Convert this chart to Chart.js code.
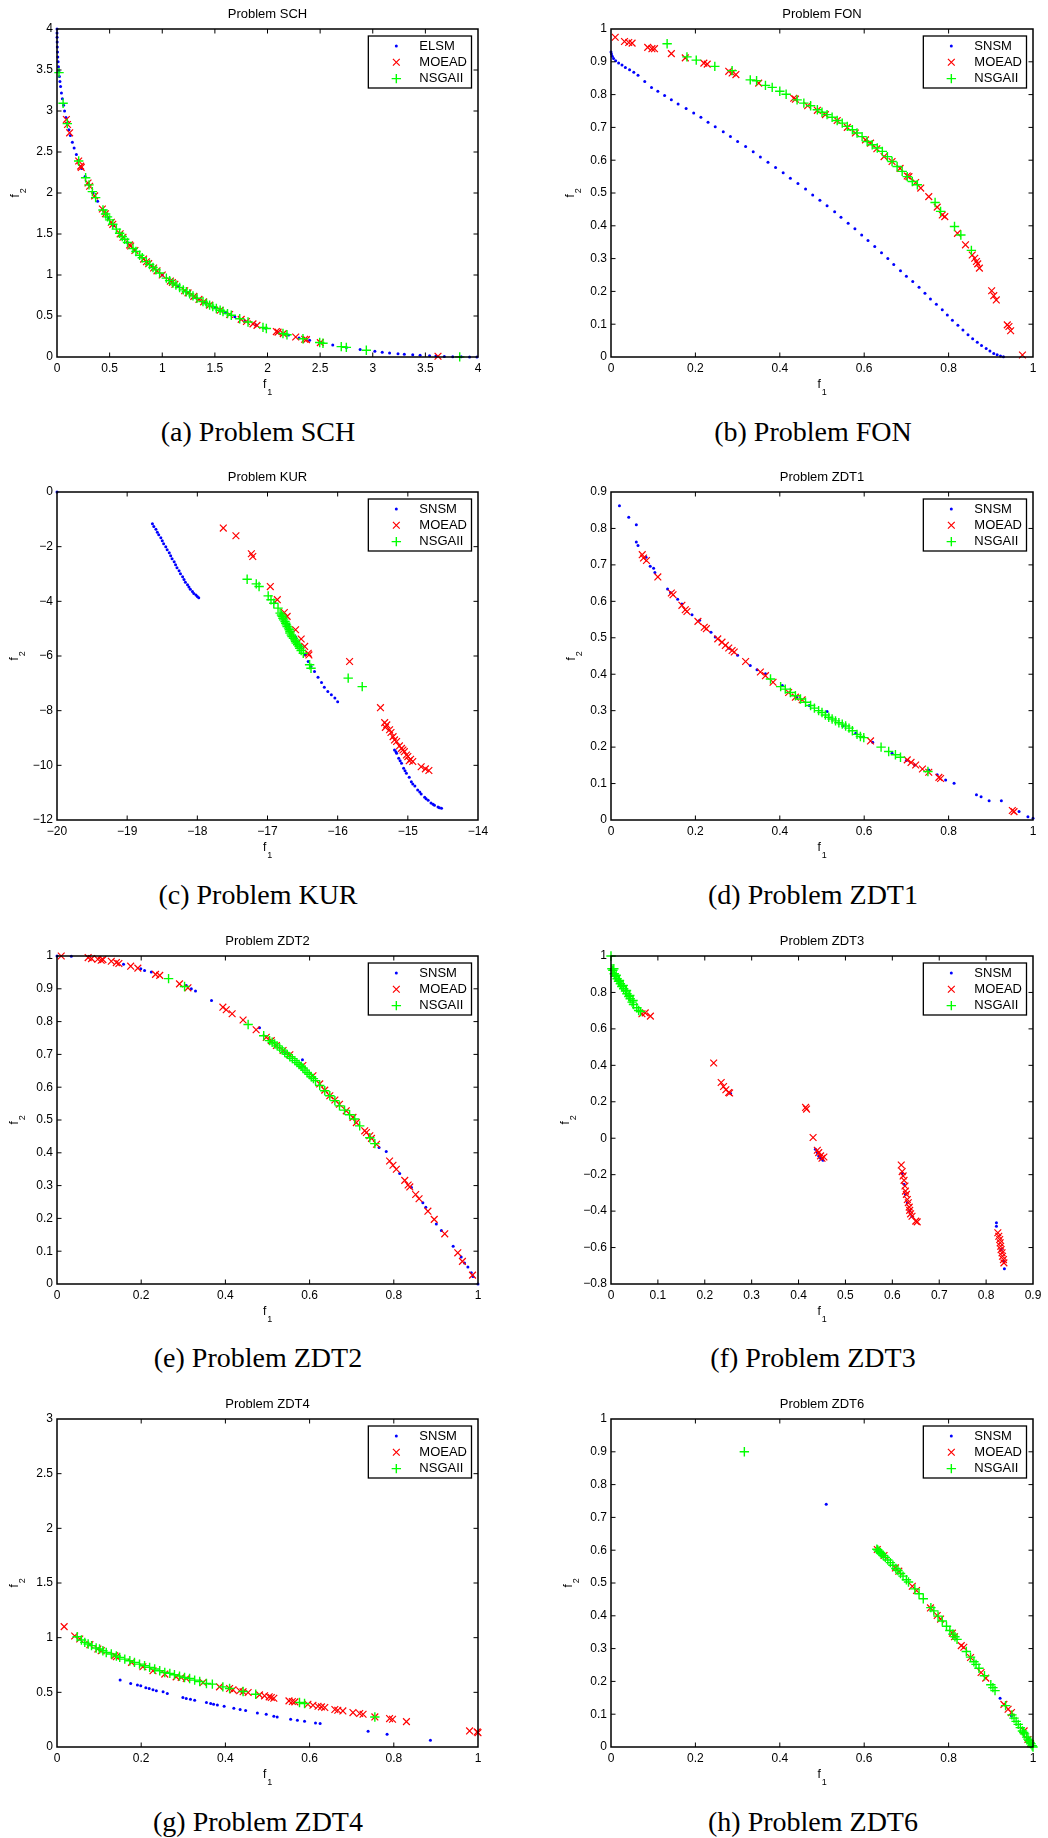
<!DOCTYPE html>
<html>
<head>
<meta charset="utf-8">
<title>Pareto fronts — SNSM / MOEAD / NSGAII</title>
<script src="https://cdn.jsdelivr.net/npm/chart.js@4.4.1/dist/chart.umd.min.js"></script>
<style>
  html, body { margin: 0; padding: 0; background: #fff; }
  body { width: 1048px; height: 1838px; position: relative; overflow: hidden; }
  .pf-cell { position: absolute; width: 524px; height: 400px; }
  .pf-cap  { position: absolute; width: 440px; text-align: center; color: #000;
             font: 28px "Liberation Serif", "Times New Roman", serif; line-height: 34px; white-space: nowrap; }
</style>
</head>
<body>
<script>
// ─── DATA ────────────────────────────────────────────────────────────────────
// every series is a list of [f1, f2] pairs

// (a) SCH
const schElsm = [[0,4.0],[0.0002,3.95],[0.0006,3.9],[0.0016,3.84],[0.003,3.78],[0.005,3.72],[0.0075,3.66],[0.0105,3.6],[0.014,3.54],[0.018,3.48],[0.023,3.42],[0.028,3.36],[0.034,3.3],[0.042,3.22],[0.051,3.15],[0.062,3.07],[0.072,3.0],[0.085,2.92],[0.097,2.85],[0.113,2.77],[0.127,2.7],[0.146,2.62],[0.163,2.55],[0.184,2.47],[0.203,2.4],[0.234,2.3],[0.267,2.2],[0.304,2.1],[0.343,2.0],[0.386,1.9],[0.434,1.8],[0.485,1.7],[0.54,1.6],[0.601,1.5],[0.667,1.4],[0.739,1.3],[0.818,1.2],[0.905,1.1],[1.0,1.0],[1.073,0.93],[1.151,0.86],[1.235,0.79],[1.326,0.72],[1.41,0.66],[1.502,0.6],[1.601,0.54],[1.69,0.49],[1.787,0.44],[1.892,0.39],[1.984,0.35],[2.1,0.303],[2.2,0.267],[2.3,0.233],[2.4,0.203],[2.5,0.175],[2.62,0.145],[2.75,0.117],[2.88,0.092],[3.02,0.069],[3.09,0.059],[3.16,0.049],[3.24,0.04],[3.3,0.034],[3.38,0.026],[3.45,0.02],[3.54,0.014],[3.6,0.011],[3.68,0.007],[3.76,0.004],[3.84,0.0016],[3.92,0.0004],[3.99,0]];
const schMoead = [[0.089,2.896],[0.1,2.835],[0.12,2.734],[0.206,2.39],[0.225,2.328],[0.23,2.312],[0.295,2.122],[0.31,2.083],[0.358,1.965],[0.431,1.805],[0.46,1.747],[0.516,1.643],[0.53,1.618],[0.6,1.502],[0.627,1.46],[0.69,1.367],[0.7,1.353],[0.74,1.299],[0.823,1.194],[0.85,1.162],[0.871,1.138],[0.918,1.085],[0.95,1.051],[1.0,1.0],[1.077,0.926],[1.096,0.908],[1.12,0.887],[1.213,0.808],[1.245,0.782],[1.3,0.739],[1.349,0.703],[1.393,0.672],[1.45,0.633],[1.55,0.57],[1.64,0.518],[1.75,0.459],[1.8,0.433],[1.862,0.404],[1.9,0.386],[2.084,0.31],[2.1,0.303],[2.15,0.285],[2.268,0.244],[2.353,0.217],[2.37,0.212],[2.502,0.175],[3.62,0.009]];
const schNsga  = [[0.019,3.468],[0.058,3.095],[0.098,2.846],[0.206,2.39],[0.272,2.186],[0.304,2.099],[0.336,2.017],[0.367,1.944],[0.437,1.793],[0.462,1.743],[0.48,1.709],[0.5,1.672],[0.53,1.618],[0.564,1.56],[0.595,1.51],[0.62,1.47],[0.643,1.436],[0.67,1.396],[0.722,1.323],[0.75,1.286],[0.785,1.241],[0.81,1.21],[0.849,1.163],[0.88,1.128],[0.912,1.092],[0.94,1.062],[0.975,1.025],[1.039,0.962],[1.07,0.932],[1.102,0.903],[1.13,0.878],[1.165,0.848],[1.2,0.818],[1.229,0.795],[1.26,0.77],[1.292,0.745],[1.33,0.717],[1.387,0.676],[1.42,0.653],[1.45,0.633],[1.48,0.614],[1.514,0.592],[1.55,0.57],[1.577,0.554],[1.62,0.529],[1.656,0.509],[1.736,0.466],[1.815,0.426],[1.957,0.361],[1.989,0.348],[2.147,0.286],[2.185,0.272],[2.337,0.222],[2.496,0.176],[2.527,0.168],[2.701,0.127],[2.749,0.117],[2.939,0.082],[3.826,0.002]];

// (b) FON
const fonSnsm  = [[0,0.93],[0.001,0.924],[0.003,0.917],[0.006,0.91],[0.011,0.903],[0.018,0.896],[0.026,0.89],[0.034,0.883],[0.044,0.876],[0.054,0.868],[0.064,0.859],[0.08,0.84],[0.096,0.822],[0.111,0.81],[0.127,0.797],[0.143,0.784],[0.159,0.771],[0.178,0.758],[0.196,0.744],[0.213,0.731],[0.23,0.716],[0.247,0.702],[0.266,0.687],[0.283,0.672],[0.3,0.657],[0.319,0.642],[0.337,0.626],[0.354,0.61],[0.372,0.594],[0.39,0.578],[0.408,0.562],[0.425,0.545],[0.443,0.529],[0.461,0.512],[0.478,0.494],[0.495,0.478],[0.512,0.461],[0.53,0.443],[0.545,0.426],[0.562,0.408],[0.578,0.391],[0.594,0.372],[0.609,0.355],[0.625,0.337],[0.641,0.318],[0.656,0.3],[0.67,0.282],[0.686,0.263],[0.7,0.246],[0.715,0.23],[0.73,0.213],[0.744,0.194],[0.757,0.177],[0.771,0.161],[0.785,0.144],[0.797,0.128],[0.809,0.112],[0.822,0.097],[0.834,0.082],[0.846,0.068],[0.857,0.056],[0.868,0.045],[0.878,0.035],[0.889,0.026],[0.898,0.018],[0.907,0.011],[0.915,0.007],[0.923,0.003],[0.93,0.001]];
const fonMoead = [[0.01,0.975],[0.032,0.962],[0.042,0.959],[0.05,0.957],[0.087,0.944],[0.097,0.94],[0.103,0.94],[0.143,0.925],[0.176,0.912],[0.22,0.896],[0.228,0.893],[0.279,0.871],[0.287,0.866],[0.296,0.861],[0.35,0.835],[0.433,0.789],[0.437,0.786],[0.466,0.766],[0.489,0.752],[0.508,0.739],[0.536,0.721],[0.56,0.7],[0.579,0.683],[0.603,0.662],[0.615,0.652],[0.63,0.635],[0.647,0.611],[0.666,0.596],[0.685,0.575],[0.702,0.552],[0.706,0.55],[0.722,0.532],[0.734,0.515],[0.753,0.489],[0.773,0.457],[0.785,0.433],[0.791,0.428],[0.821,0.377],[0.84,0.342],[0.856,0.311],[0.862,0.301],[0.866,0.291],[0.869,0.284],[0.873,0.271],[0.902,0.202],[0.907,0.187],[0.913,0.174],[0.939,0.098],[0.943,0.093],[0.947,0.08],[0.975,0.006]];
const fonNsga  = [[0.133,0.955],[0.18,0.915],[0.202,0.905],[0.246,0.886],[0.287,0.873],[0.33,0.845],[0.345,0.842],[0.366,0.828],[0.382,0.822],[0.4,0.81],[0.415,0.801],[0.441,0.784],[0.457,0.774],[0.473,0.766],[0.489,0.754],[0.5,0.746],[0.512,0.739],[0.524,0.731],[0.536,0.721],[0.548,0.713],[0.56,0.703],[0.572,0.693],[0.583,0.683],[0.595,0.672],[0.607,0.657],[0.619,0.647],[0.631,0.637],[0.643,0.627],[0.655,0.611],[0.666,0.596],[0.678,0.581],[0.69,0.566],[0.702,0.55],[0.714,0.535],[0.726,0.525],[0.768,0.471],[0.781,0.444],[0.814,0.398],[0.829,0.372],[0.854,0.325]];

// (c) KUR
const kurSnsm  = [[-20,0],[-18.64,-1.16],[-18.62,-1.26],[-18.59,-1.36],[-18.57,-1.47],[-18.55,-1.56],[-18.52,-1.67],[-18.5,-1.78],[-18.48,-1.89],[-18.45,-2.0],[-18.43,-2.11],[-18.4,-2.22],[-18.38,-2.33],[-18.36,-2.44],[-18.33,-2.55],[-18.31,-2.66],[-18.29,-2.77],[-18.26,-2.88],[-18.24,-2.99],[-18.21,-3.1],[-18.19,-3.2],[-18.17,-3.3],[-18.14,-3.39],[-18.12,-3.48],[-18.1,-3.56],[-18.07,-3.64],[-18.05,-3.71],[-18.02,-3.77],[-18.0,-3.82],[-17.98,-3.87],[-16.9,-4.05],[-16.8,-4.45],[-16.7,-4.85],[-16.6,-5.3],[-16.52,-5.65],[-16.46,-5.95],[-16.42,-6.2],[-16.38,-6.38],[-16.33,-6.57],[-16.28,-6.78],[-16.23,-6.97],[-16.19,-7.14],[-16.14,-7.3],[-16.09,-7.42],[-16.04,-7.54],[-16.0,-7.67],[-15.19,-9.44],[-15.17,-9.5],[-15.16,-9.56],[-15.13,-9.74],[-15.11,-9.83],[-15.09,-9.92],[-15.06,-10.11],[-15.04,-10.2],[-15.02,-10.29],[-14.98,-10.44],[-14.95,-10.6],[-14.93,-10.68],[-14.9,-10.76],[-14.86,-10.9],[-14.83,-10.98],[-14.81,-11.05],[-14.76,-11.17],[-14.74,-11.22],[-14.71,-11.28],[-14.67,-11.38],[-14.64,-11.42],[-14.62,-11.46],[-14.57,-11.52],[-14.55,-11.55],[-14.52,-11.57]];
const kurMoead = [[-17.63,-1.32],[-17.45,-1.6],[-17.23,-2.26],[-17.21,-2.36],[-16.96,-3.46],[-16.86,-3.94],[-16.76,-4.41],[-16.72,-4.55],[-16.6,-5.04],[-16.52,-5.38],[-16.47,-5.65],[-16.42,-5.9],[-16.41,-5.96],[-15.83,-6.2],[-15.39,-7.89],[-15.33,-8.44],[-15.32,-8.61],[-15.3,-8.52],[-15.26,-8.7],[-15.24,-8.8],[-15.21,-8.95],[-15.19,-9.07],[-15.16,-9.13],[-15.12,-9.29],[-15.09,-9.38],[-15.07,-9.44],[-15.05,-9.5],[-15.02,-9.62],[-15.0,-9.68],[-14.98,-9.83],[-14.96,-9.78],[-14.93,-9.86],[-14.81,-10.05],[-14.75,-10.13],[-14.7,-10.19]];
const kurNsga  = [[-17.29,-3.19],[-17.16,-3.36],[-17.12,-3.46],[-16.99,-3.8],[-16.95,-3.94],[-16.91,-4.07],[-16.85,-4.25],[-16.82,-4.43],[-16.8,-4.5],[-16.79,-4.55],[-16.78,-4.62],[-16.77,-4.68],[-16.75,-4.74],[-16.74,-4.8],[-16.73,-4.86],[-16.72,-4.92],[-16.7,-4.98],[-16.69,-5.04],[-16.68,-5.1],[-16.68,-5.16],[-16.66,-5.23],[-16.65,-5.29],[-16.63,-5.35],[-16.61,-5.41],[-16.6,-5.47],[-16.59,-5.53],[-16.57,-5.59],[-16.55,-5.65],[-16.54,-5.72],[-16.52,-5.8],[-16.49,-5.9],[-16.4,-6.32],[-16.38,-6.45],[-15.85,-6.81],[-15.65,-7.12]];

// (d) ZDT1
const zdt1Snsm  = [[0.02,0.862],[0.042,0.831],[0.06,0.81],[0.06,0.763],[0.064,0.753],[0.083,0.721],[0.093,0.696],[0.101,0.691],[0.104,0.679],[0.134,0.634],[0.141,0.624],[0.158,0.606],[0.168,0.593],[0.192,0.563],[0.21,0.548],[0.237,0.515],[0.247,0.502],[0.28,0.471],[0.3,0.452],[0.33,0.424],[0.346,0.412],[0.366,0.401],[0.406,0.369],[0.44,0.337],[0.47,0.314],[0.512,0.298],[0.55,0.258],[0.58,0.238],[0.62,0.213],[0.666,0.183],[0.7,0.163],[0.72,0.151],[0.753,0.137],[0.773,0.124],[0.793,0.11],[0.813,0.101],[0.866,0.069],[0.877,0.064],[0.896,0.053],[0.925,0.053],[0.967,0.023],[0.988,0.009],[1.0,0.005]];
const zdt1Moead = [[0.074,0.728],[0.077,0.719],[0.084,0.712],[0.111,0.667],[0.143,0.623],[0.147,0.618],[0.168,0.589],[0.176,0.577],[0.18,0.572],[0.206,0.545],[0.221,0.529],[0.226,0.525],[0.253,0.497],[0.263,0.488],[0.271,0.479],[0.279,0.472],[0.287,0.465],[0.292,0.461],[0.319,0.435],[0.354,0.406],[0.366,0.396],[0.384,0.378],[0.421,0.35],[0.437,0.337],[0.453,0.33],[0.615,0.217],[0.702,0.165],[0.711,0.158],[0.722,0.151],[0.738,0.14],[0.753,0.131],[0.777,0.117],[0.781,0.114],[0.951,0.026],[0.955,0.023]];
const zdt1Nsga  = [[0.378,0.387],[0.402,0.366],[0.413,0.359],[0.425,0.35],[0.437,0.341],[0.449,0.332],[0.461,0.323],[0.473,0.314],[0.482,0.307],[0.492,0.3],[0.5,0.295],[0.508,0.288],[0.516,0.282],[0.524,0.277],[0.532,0.272],[0.54,0.267],[0.548,0.263],[0.556,0.258],[0.564,0.252],[0.572,0.245],[0.583,0.235],[0.591,0.229],[0.599,0.226],[0.64,0.2],[0.658,0.188],[0.674,0.179],[0.686,0.172],[0.751,0.133]];

// (e) ZDT2
const zdt2Snsm  = [[0,1],[0.034,0.999],[0.158,0.975],[0.199,0.961],[0.208,0.956],[0.224,0.951],[0.307,0.91],[0.319,0.9],[0.329,0.893],[0.367,0.864],[0.481,0.781],[0.541,0.706],[0.583,0.684],[0.765,0.416],[0.782,0.404],[0.814,0.337],[0.842,0.294],[0.869,0.248],[0.876,0.234],[0.901,0.183],[0.913,0.163],[0.941,0.115],[0.96,0.082],[0.968,0.064],[0.976,0.052],[0.984,0.034],[0.988,0.023],[1.0,0]];
const zdt2Moead = [[0.01,1.0],[0.074,0.995],[0.082,0.992],[0.097,0.99],[0.105,0.987],[0.109,0.989],[0.129,0.984],[0.141,0.98],[0.147,0.977],[0.175,0.969],[0.192,0.963],[0.234,0.944],[0.244,0.941],[0.291,0.915],[0.311,0.903],[0.394,0.844],[0.402,0.836],[0.416,0.824],[0.442,0.805],[0.473,0.775],[0.497,0.752],[0.509,0.742],[0.521,0.727],[0.537,0.712],[0.553,0.699],[0.584,0.666],[0.608,0.635],[0.624,0.61],[0.636,0.591],[0.648,0.574],[0.66,0.561],[0.671,0.548],[0.687,0.528],[0.703,0.508],[0.711,0.492],[0.731,0.467],[0.735,0.462],[0.743,0.452],[0.747,0.444],[0.759,0.426],[0.79,0.375],[0.798,0.362],[0.806,0.35],[0.826,0.316],[0.834,0.302],[0.838,0.296],[0.852,0.273],[0.86,0.26],[0.881,0.222],[0.896,0.197],[0.921,0.153],[0.952,0.095],[0.963,0.069],[0.987,0.027]];
const zdt2Nsga  = [[0.265,0.931],[0.303,0.907],[0.454,0.791],[0.491,0.757],[0.505,0.742],[0.511,0.737],[0.517,0.732],[0.523,0.726],[0.529,0.72],[0.535,0.713],[0.541,0.706],[0.547,0.7],[0.553,0.693],[0.559,0.687],[0.565,0.681],[0.57,0.675],[0.575,0.669],[0.58,0.664],[0.584,0.659],[0.589,0.652],[0.594,0.645],[0.599,0.639],[0.604,0.632],[0.609,0.626],[0.614,0.62],[0.624,0.605],[0.636,0.589],[0.648,0.574],[0.66,0.559],[0.671,0.543],[0.683,0.53],[0.695,0.516],[0.707,0.503],[0.719,0.482],[0.743,0.446],[0.755,0.428]];

// (f) ZDT3
const zdt3Snsm  = [[0.255,0.246],[0.436,-0.061],[0.44,-0.079],[0.443,-0.097],[0.447,-0.11],[0.452,-0.121],[0.621,-0.194],[0.625,-0.253],[0.628,-0.308],[0.632,-0.354],[0.637,-0.4],[0.642,-0.428],[0.822,-0.464],[0.822,-0.483],[0.832,-0.611],[0.838,-0.675],[0.839,-0.716]];
const zdt3Moead = [[0.066,0.683],[0.073,0.688],[0.084,0.67],[0.219,0.413],[0.235,0.306],[0.24,0.284],[0.245,0.266],[0.251,0.251],[0.253,0.248],[0.415,0.169],[0.417,0.16],[0.431,0.004],[0.44,-0.066],[0.443,-0.079],[0.447,-0.097],[0.45,-0.11],[0.454,-0.103],[0.619,-0.147],[0.621,-0.183],[0.623,-0.207],[0.625,-0.231],[0.627,-0.262],[0.628,-0.29],[0.63,-0.308],[0.632,-0.336],[0.634,-0.354],[0.636,-0.378],[0.637,-0.396],[0.639,-0.415],[0.642,-0.428],[0.65,-0.455],[0.653,-0.459],[0.825,-0.519],[0.827,-0.538],[0.829,-0.556],[0.83,-0.574],[0.831,-0.593],[0.832,-0.611],[0.834,-0.629],[0.835,-0.648],[0.837,-0.666],[0.838,-0.684]];
const zdt3Nsga  = [[0,1],[0.002,0.93],[0.004,0.921],[0.006,0.93],[0.007,0.903],[0.009,0.888],[0.011,0.894],[0.013,0.875],[0.016,0.861],[0.018,0.866],[0.02,0.848],[0.023,0.833],[0.026,0.839],[0.027,0.82],[0.031,0.807],[0.033,0.811],[0.034,0.793],[0.038,0.778],[0.04,0.783],[0.041,0.765],[0.045,0.747],[0.047,0.756],[0.048,0.734],[0.055,0.716],[0.059,0.701],[0.063,0.695]];

// (g) ZDT4
const zdt4Snsm  = [[0.15,0.612],[0.175,0.581],[0.191,0.566],[0.199,0.56],[0.211,0.541],[0.219,0.535],[0.228,0.523],[0.236,0.514],[0.252,0.505],[0.262,0.489],[0.299,0.453],[0.307,0.443],[0.317,0.437],[0.327,0.428],[0.355,0.407],[0.365,0.398],[0.372,0.391],[0.381,0.385],[0.397,0.373],[0.42,0.355],[0.435,0.343],[0.448,0.333],[0.476,0.312],[0.497,0.3],[0.515,0.281],[0.523,0.275],[0.555,0.254],[0.571,0.245],[0.588,0.235],[0.614,0.22],[0.625,0.214],[0.739,0.144],[0.784,0.116],[0.887,0.061]];
const zdt4Moead = [[0.017,1.101],[0.042,1.015],[0.054,0.988],[0.078,0.936],[0.097,0.896],[0.105,0.881],[0.137,0.835],[0.141,0.826],[0.177,0.774],[0.204,0.734],[0.228,0.697],[0.256,0.667],[0.283,0.642],[0.295,0.636],[0.307,0.627],[0.347,0.59],[0.386,0.55],[0.41,0.535],[0.418,0.523],[0.434,0.514],[0.442,0.505],[0.454,0.498],[0.481,0.477],[0.493,0.468],[0.504,0.459],[0.509,0.453],[0.515,0.446],[0.551,0.422],[0.559,0.416],[0.565,0.413],[0.596,0.391],[0.608,0.382],[0.62,0.373],[0.628,0.367],[0.636,0.361],[0.66,0.343],[0.667,0.336],[0.679,0.33],[0.703,0.315],[0.719,0.306],[0.727,0.3],[0.755,0.275],[0.79,0.26],[0.797,0.254],[0.83,0.232],[0.98,0.147],[0.998,0.138],[1.0,0.131]];
const zdt4Nsga  = [[0.048,1.009],[0.058,0.979],[0.066,0.957],[0.074,0.942],[0.082,0.927],[0.093,0.905],[0.101,0.896],[0.109,0.881],[0.117,0.865],[0.129,0.85],[0.141,0.832],[0.149,0.82],[0.161,0.804],[0.173,0.789],[0.184,0.774],[0.196,0.758],[0.208,0.743],[0.22,0.728],[0.232,0.713],[0.244,0.697],[0.256,0.682],[0.268,0.673],[0.279,0.661],[0.291,0.648],[0.303,0.636],[0.315,0.627],[0.327,0.612],[0.339,0.599],[0.355,0.581],[0.369,0.575],[0.394,0.55],[0.41,0.535],[0.442,0.508],[0.472,0.483],[0.576,0.407],[0.588,0.398],[0.755,0.275]];

// (h) ZDT6
const zdt6Snsm  = [[0.51,0.74],[0.922,0.149],[0.949,0.095]];
const zdt6Moead = [[0.631,0.602],[0.647,0.584],[0.674,0.546],[0.682,0.536],[0.714,0.49],[0.724,0.477],[0.757,0.424],[0.773,0.401],[0.781,0.39],[0.809,0.347],[0.814,0.336],[0.83,0.309],[0.836,0.304],[0.852,0.273],[0.877,0.227],[0.888,0.21],[0.931,0.13],[0.941,0.115],[0.949,0.105],[0.979,0.049],[0.988,0.023],[0.994,0.01]];
const zdt6Nsga  = [[0.316,0.9],[0.63,0.603],[0.632,0.601],[0.635,0.597],[0.638,0.593],[0.641,0.589],[0.645,0.584],[0.65,0.578],[0.656,0.57],[0.662,0.562],[0.668,0.554],[0.675,0.544],[0.68,0.538],[0.686,0.529],[0.692,0.521],[0.7,0.51],[0.705,0.503],[0.72,0.482],[0.73,0.467],[0.74,0.452],[0.758,0.425],[0.765,0.415],[0.775,0.399],[0.785,0.384],[0.795,0.368],[0.803,0.355],[0.81,0.344],[0.815,0.336],[0.82,0.328],[0.842,0.291],[0.852,0.274],[0.86,0.26],[0.865,0.252],[0.872,0.24],[0.885,0.217],[0.9,0.19],[0.905,0.181],[0.91,0.172],[0.935,0.126],[0.95,0.098],[0.955,0.088],[0.96,0.078],[0.965,0.069],[0.97,0.059],[0.975,0.049],[0.978,0.044],[0.98,0.04],[0.985,0.03],[0.988,0.024],[0.99,0.02],[0.993,0.014],[0.995,0.01],[0.998,0.004],[1.0,0]];

// tick values
const ticks0to4   = [0, 0.5, 1, 1.5, 2, 2.5, 3, 3.5, 4];
const ticksUnit5  = [0, 0.2, 0.4, 0.6, 0.8, 1];
const ticksUnit10 = [0, 0.1, 0.2, 0.3, 0.4, 0.5, 0.6, 0.7, 0.8, 0.9, 1];
const kurXTicks   = [-20, -19, -18, -17, -16, -15, -14];
const kurYTicks   = [-12, -10, -8, -6, -4, -2, 0];
const zdt1YTicks  = [0, 0.1, 0.2, 0.3, 0.4, 0.5, 0.6, 0.7, 0.8, 0.9];
const zdt3XTicks  = [0, 0.1, 0.2, 0.3, 0.4, 0.5, 0.6, 0.7, 0.8, 0.9];
const zdt3YTicks  = [-0.8, -0.6, -0.4, -0.2, 0, 0.2, 0.4, 0.6, 0.8, 1];
const zdt4YTicks  = [0, 0.5, 1, 1.5, 2, 2.5, 3];

// ─── LAYOUT ──────────────────────────────────────────────────────────────────
const PF_FONT   = '"Liberation Sans", Arial, Helvetica, sans-serif';
const CELL_X    = [0, 524];                 // canvas left per column
const CELL_Y    = [0, 463, 927, 1390];      // canvas top per row
const CELL_W    = 524, CELL_H = 400;
const PLOT_L    = [57, 87];                 // chart-area left inside canvas, per column
const PLOT_R    = [478, 509];               // chart-area right inside canvas
const TITLE_H   = 29;                       // title band above the plot
const XAXIS_H   = 43;                       // below the plot
const CAP_X     = [258, 813];               // caption centre per column
const CAP_Y     = [432, 895, 1358, 1822];   // caption centre per row
const TICK_LEN  = 4.5;

// yLab: distance from the plot's left edge to the centre of the rotated "f2"
const PANELS = [
  { cap: '(a) Problem SCH',  title: 'Problem SCH',  col: 0, row: 0, first: 'ELSM', x: [0, 4],     y: [0, 4],     xt: ticks0to4,  yt: ticks0to4,   yLab: 42,   s: [schElsm, schMoead, schNsga] },
  { cap: '(b) Problem FON',  title: 'Problem FON',  col: 1, row: 0, first: 'SNSM', x: [0, 1],     y: [0, 1],     xt: ticksUnit5, yt: ticksUnit10, yLab: 41,   s: [fonSnsm, fonMoead, fonNsga] },
  { cap: '(c) Problem KUR',  title: 'Problem KUR',  col: 0, row: 1, first: 'SNSM', x: [-20, -14], y: [-12, 0],   xt: kurXTicks,  yt: kurYTicks,   yLab: 43.5, s: [kurSnsm, kurMoead, kurNsga] },
  { cap: '(d) Problem ZDT1', title: 'Problem ZDT1', col: 1, row: 1, first: 'SNSM', x: [0, 1],     y: [0, 0.9],   xt: ticksUnit5, yt: zdt1YTicks,  yLab: 40,   s: [zdt1Snsm, zdt1Moead, zdt1Nsga] },
  { cap: '(e) Problem ZDT2', title: 'Problem ZDT2', col: 0, row: 2, first: 'SNSM', x: [0, 1],     y: [0, 1],     xt: ticksUnit5, yt: ticksUnit10, yLab: 43,   s: [zdt2Snsm, zdt2Moead, zdt2Nsga] },
  { cap: '(f) Problem ZDT3', title: 'Problem ZDT3', col: 1, row: 2, first: 'SNSM', x: [0, 0.9],   y: [-0.8, 1],  xt: zdt3XTicks, yt: zdt3YTicks,  yLab: 46,   s: [zdt3Snsm, zdt3Moead, zdt3Nsga] },
  { cap: '(g) Problem ZDT4', title: 'Problem ZDT4', col: 0, row: 3, first: 'SNSM', x: [0, 1],     y: [0, 3],     xt: ticksUnit5, yt: zdt4YTicks,  yLab: 43,   s: [zdt4Snsm, zdt4Moead, zdt4Nsga] },
  { cap: '(h) Problem ZDT6', title: 'Problem ZDT6', col: 1, row: 3, first: 'SNSM', x: [0, 1],     y: [0, 1],     xt: ticksUnit5, yt: ticksUnit10, yLab: 43,   s: [zdt6Snsm, zdt6Moead, zdt6Nsga] },
];

const _toXY  = arr => arr.map(([x, y]) => ({ x, y }));
const _fmt   = v => String(Math.round(v * 1000) / 1000).replace('-', '\u2212');
const _font  = size => ({ family: PF_FONT, size, weight: 'normal' });

// "f" with a real subscript digit, centred on (cx, cy), optionally rotated
function _subLabel(ctx, sub, cx, cy, rot) {
  ctx.save();
  ctx.translate(cx, cy);
  ctx.rotate(rot);
  ctx.fillStyle = '#000';
  ctx.textAlign = 'left';
  ctx.textBaseline = 'alphabetic';
  ctx.font = `12px ${PF_FONT}`;
  ctx.fillText('f', -4.5, 4.4);
  ctx.font = `9px ${PF_FONT}`;
  ctx.fillText(sub, -0.3, 11.4);
  ctx.restore();
}

// ─── MATLAB-style box, inward ticks, axis labels and boxed legend ────────────
const pfFrame = {
  id: 'pfFrame',
  afterDraw(chart) {
    const { ctx, chartArea: a, scales: { x, y } } = chart;
    const p = chart.options.plugins.pfFrame;
    ctx.save();
    ctx.strokeStyle = '#000';
    ctx.lineWidth = 1;
    ctx.beginPath();
    x.ticks.forEach(t => {
      const px = x.getPixelForValue(t.value);
      if (px <= a.left + 1 || px >= a.right - 1) return;
      ctx.moveTo(px, a.bottom); ctx.lineTo(px, a.bottom - TICK_LEN);
      ctx.moveTo(px, a.top);    ctx.lineTo(px, a.top + TICK_LEN);
    });
    y.ticks.forEach(t => {
      const py = y.getPixelForValue(t.value);
      if (py <= a.top + 1 || py >= a.bottom - 1) return;
      ctx.moveTo(a.left, py);  ctx.lineTo(a.left + TICK_LEN, py);
      ctx.moveTo(a.right, py); ctx.lineTo(a.right - TICK_LEN, py);
    });
    ctx.stroke();
    ctx.lineWidth = 1.5;
    ctx.strokeRect(a.left, a.top, a.right - a.left, a.bottom - a.top);

    // axis labels f1 / f2
    _subLabel(ctx, '1', (a.left + a.right) / 2, a.bottom + 26.5, 0);
    _subLabel(ctx, '2', a.left - p.yLab, (a.top + a.bottom) / 2, -Math.PI / 2);

    // legend (top-right, white box)
    const sets = chart.data.datasets;
    ctx.font = `13px ${PF_FONT}`;
    const textW = Math.max(...sets.map(d => ctx.measureText(d.label).width));
    const w = 51 + textW + 4.5, h = 52;
    const bx = a.right - 6.5 - w, by = a.top + 7;
    ctx.fillStyle = '#fff';
    ctx.fillRect(bx, by, w, h);
    ctx.strokeStyle = '#000';
    ctx.lineWidth = 1.3;
    ctx.strokeRect(bx, by, w, h);
    sets.forEach((d, i) => {
      const cy = by + 10 + i * 16.3;
      ctx.fillStyle = d.backgroundColor;
      ctx.strokeStyle = d.borderColor;
      ctx.lineWidth = d.borderWidth;
      Chart.helpers.drawPoint(ctx, { pointStyle: d.pointStyle, radius: d.pointRadius, borderWidth: d.borderWidth, rotation: 0 }, bx + 28, cy);
      ctx.fillStyle = '#000';
      ctx.textBaseline = 'middle';
      ctx.textAlign = 'left';
      ctx.font = `13px ${PF_FONT}`;
      ctx.fillText(d.label, bx + 51, cy);
    });
    ctx.restore();
  }
};

function pfDatasets(p) {
  return [
    { label: p.first,  data: _toXY(p.s[0]), pointStyle: 'circle',   pointRadius: 1.5, backgroundColor: '#0000ff', borderColor: '#0000ff', borderWidth: 0,   order: 3, clip: false },
    { label: 'MOEAD',  data: _toXY(p.s[1]), pointStyle: 'crossRot', pointRadius: 4.8, backgroundColor: '#ff0000', borderColor: '#ff0000', borderWidth: 1.2, order: 2, clip: false },
    { label: 'NSGAII', data: _toXY(p.s[2]), pointStyle: 'cross',    pointRadius: 4.7, backgroundColor: '#00ff00', borderColor: '#00ff00', borderWidth: 1.4, order: 1, clip: false },
  ];
}

function pfChart(p) {
  const cell = document.createElement('div');
  cell.className = 'pf-cell';
  cell.style.left = CELL_X[p.col] + 'px';
  cell.style.top  = CELL_Y[p.row] + 'px';
  const canvas = document.createElement('canvas');
  canvas.width = CELL_W; canvas.height = CELL_H;
  cell.appendChild(canvas);
  document.body.appendChild(cell);

  const cap = document.createElement('div');
  cap.className = 'pf-cap';
  cap.textContent = p.cap;
  cap.style.left = (CAP_X[p.col] - 220) + 'px';
  cap.style.top  = (CAP_Y[p.row] - 17) + 'px';
  document.body.appendChild(cap);

  const axisBase = {
    type: 'linear',
    grid: { display: false, drawTicks: false },
    border: { display: false },
  };

  new Chart(canvas.getContext('2d'), {
    type: 'scatter',
    data: { datasets: pfDatasets(p) },
    plugins: [pfFrame],
    options: {
      responsive: false, animation: false, devicePixelRatio: 1, events: [],
      layout: { padding: { left: 0, top: 0, bottom: 0, right: CELL_W - PLOT_R[p.col] } },
      plugins: {
        legend: { display: false },
        tooltip: { enabled: false },
        pfFrame: { yLab: p.yLab },
        title: {
          display: true, text: p.title, fullSize: false, color: '#000',
          font: _font(13), padding: { top: 6.7, bottom: TITLE_H - 6.7 - 15.6 },
        },
      },
      scales: {
        x: {
          ...axisBase, position: 'bottom', min: p.x[0], max: p.x[1],
          afterBuildTicks: s => { s.ticks = p.xt.map(v => ({ value: v })); },
          afterFit: s => { s.height = XAXIS_H; },
          ticks: { color: '#000', font: _font(12), padding: 4.3, maxRotation: 0, autoSkip: false, callback: _fmt },
        },
        y: {
          ...axisBase, position: 'left', min: p.y[0], max: p.y[1],
          afterBuildTicks: s => { s.ticks = p.yt.map(v => ({ value: v })); },
          afterFit: s => { s.width = PLOT_L[p.col]; },
          ticks: { color: '#000', font: _font(12), padding: 4, autoSkip: false, callback: _fmt },
        },
      },
    },
  });
}

PANELS.forEach(pfChart);
</script>
</body>
</html>
